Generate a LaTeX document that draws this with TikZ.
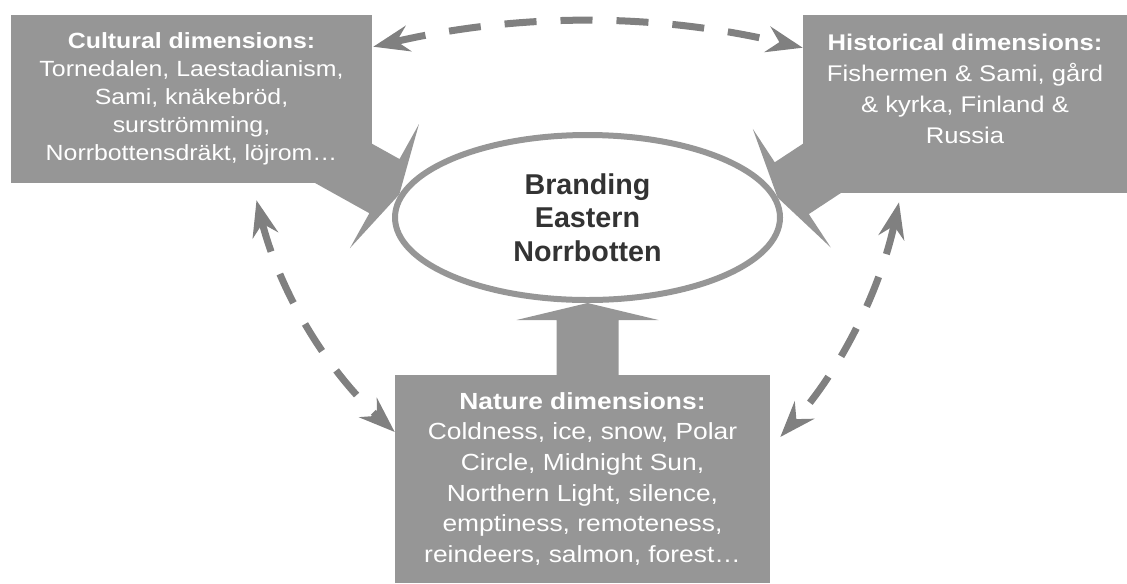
\documentclass[tikz,border=0pt]{standalone}
\usepackage{fontspec}
\setmainfont{Liberation Sans}
\newfontfamily\dimfont{Liberation Sans}[FakeStretch=1.13]
\usetikzlibrary{arrows.meta,calc,shapes.geometric,backgrounds}

\definecolor{boxgray}{HTML}{969696}
\definecolor{dashgray}{HTML}{808080}
\definecolor{brandtext}{HTML}{333333}

\tikzset{
	dimbox/.style={fill=boxgray, text=white, align=center, inner sep=0pt},
	linkarrow/.style={dashgray, line width=5.25pt, dash pattern=on 24pt off 18pt,
		{Stealth[length=27pt,width=19.5pt,inset=9pt]}-{Stealth[length=27pt,width=19.5pt,inset=9pt]}},
}

% fat arrow: #1 tail, #2 tip
\newcommand{\blockarr}[2]{%
	\coordinate (ba) at ($(#2)!12.75pt!(#1)$);
	\fill[boxgray] ($(#1)!23.25pt!90:(#2)$) -- ($(ba)!23.25pt!90:(#2)$) -- ($(ba)!53.25pt!90:(#2)$)
	-- (#2) -- ($(ba)!53.25pt!-90:(#2)$) -- ($(ba)!23.25pt!-90:(#2)$) -- ($(#1)!23.25pt!-90:(#2)$) -- cycle;}

\begin{document}
\begin{tikzpicture}[x=0.75pt, y=-0.75pt]
	\useasboundingbox (0,0) rectangle (1127,583);
	\node[dimbox, minimum width=270.75pt, minimum height=126pt, font=\dimfont\fontsize{16.5}{21}\selectfont] (cult) at (191.5,99)
	{\textbf{Cultural dimensions:}\\Tornedalen, Laestadianism,\\Sami, knäkebröd,\\surströmming,\\Norrbottensdräkt, löjrom…};
	\node[dimbox, minimum width=243pt, minimum height=133.5pt, font=\dimfont\fontsize{17}{23.25}\selectfont] (hist) at (965,104)
	{\textbf{Historical dimensions:}\\Fishermen \& Sami, gård\\\& kyrka, Finland \&\\Russia\\\mbox{}};
	\node[dimbox, minimum width=281.25pt, minimum height=156pt, font=\dimfont\fontsize{17.5}{23}\selectfont] (nat) at (582.5,479)
	{\textbf{Nature dimensions:}\\Coldness, ice, snow, Polar\\Circle, Midnight Sun,\\Northern Light, silence,\\emptiness, remoteness,\\reindeers, salmon, forest…};
	\node[ellipse, draw=boxgray, line width=4.5pt, fill=white, minimum width=288.75pt, minimum height=123.75pt, inner sep=0pt,
		align=center, text=brandtext, font=\bfseries\fontsize{21.5}{25}\selectfont] (brand) at (587.5,217.5) {Branding\\Eastern\\Norrbotten};

	\coordinate (culttail) at (271,123);
	\coordinate (histtail) at (900,117);
	\coordinate (nattail) at (brand.south |- nat.center);
	\begin{scope}[on background layer]
		\blockarr{culttail}{brand.173}
		\blockarr{histtail}{brand.6}
		\blockarr{nattail}{brand.south}
	\end{scope}

	\draw[linkarrow] ([shift={(1,32)}]cult.north east) .. controls +(147,-34) and +(-147,-35) .. ([shift={(0,33)}]hist.north west);
	\draw[linkarrow] ([shift={(65,17)}]cult.south) .. controls +(23,91) and +(-69,-63) .. ([shift={(0,-47)}]nat.west);
	\draw[linkarrow] ([shift={(-66,9)}]hist.south) .. controls +(-19,88) and +(61,-68) .. ([shift={(10,-42)}]nat.east);
\end{tikzpicture}
\end{document}
